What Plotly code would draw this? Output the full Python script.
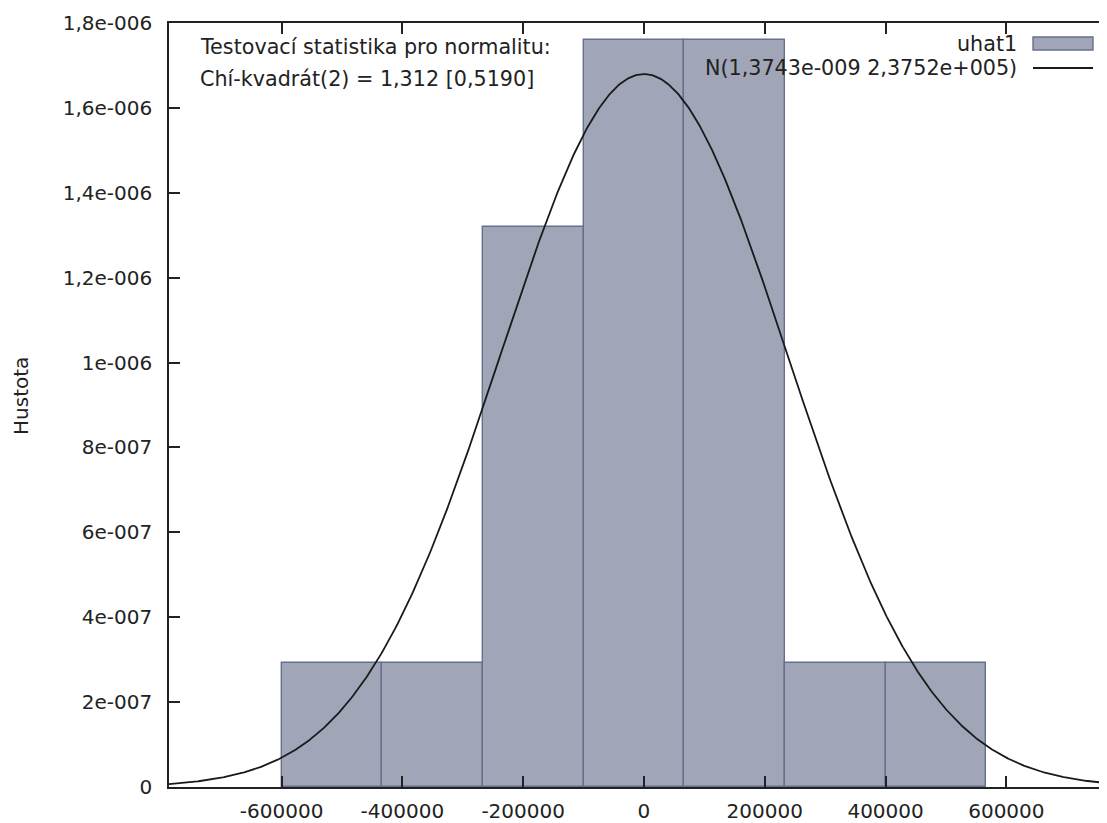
import numpy as np
import plotly.graph_objects as go

# Data
bin_centers = [-516667, -350000, -183333, -16667, 150000, 316667, 483333]
bin_width = 166667
density = [2.93e-7, 2.93e-7, 1.32e-6, 1.76e-6, 1.76e-6, 2.93e-7, 2.93e-7]
norm_mean = 1.3743e-9
norm_sd = 2.3752e5

x_tickvals = [-600000, -400000, -200000, 0, 200000, 400000, 600000]
x_ticktext = ["-600000", "-400000", "-200000", "0", "200000", "400000", "600000"]
y_tickvals = [0, 2e-7, 4e-7, 6e-7, 8e-7, 1e-6, 1.2e-6, 1.4e-6, 1.6e-6, 1.8e-6]
y_ticktext = ["0", "2e-007", "4e-007", "6e-007", "8e-007", "1e-006",
              "1,2e-006", "1,4e-006", "1,6e-006", "1,8e-006"]

x_range = [-786400, 766600]
y_range = [0, 1.8e-6]

FONT = "DejaVu Sans"
fs = 20
fs_note = 20.7
TXT = "#222222"

xs = np.linspace(x_range[0], x_range[1], 700)
pdf = np.exp(-0.5 * ((xs - norm_mean) / norm_sd) ** 2) / (norm_sd * np.sqrt(2 * np.pi))

fig = go.Figure()
fig.add_trace(go.Bar(
    x=bin_centers, y=density, width=[bin_width] * len(bin_centers),
    marker=dict(color="#a0a6b7", line=dict(color="#65708c", width=1.4)),
    showlegend=False, name="uhat1"))
fig.add_trace(go.Scatter(
    x=xs, y=pdf, mode="lines", line=dict(color="#1a1a1a", width=1.8),
    showlegend=False, name="N"))

OFF = 8  # page body margin
W, H = 1099, 815
L, R, T, B = 161, 0, 15, 36


def px(page_x):
    return (page_x - OFF - L) / (W - L - R)


def py(page_y):
    return 1 - (page_y - OFF - T) / (H - T - B)


# legend drawn manually (text right-aligned, key on the right)
fig.add_shape(type="rect", xref="paper", yref="paper",
              x0=px(1033), x1=px(1093), y0=py(50), y1=py(37),
              fillcolor="#a0a6b7", line=dict(color="#65708c", width=1.4))
fig.add_shape(type="line", xref="paper", yref="paper",
              x0=px(1033), x1=px(1093), y0=py(68), y1=py(68),
              line=dict(color="#1a1a1a", width=1.8))


def note(x, y, text, anchor, angle=0, size=fs_note):
    fig.add_annotation(xref="paper", yref="paper", x=x, y=y, text=text,
                       showarrow=False, xanchor=anchor, yanchor="middle",
                       textangle=angle,
                       font=dict(family=FONT, size=size, color=TXT))


note(px(1019), py(44), "uhat1", "right")
note(px(1019), py(68), "N(1,3743e-009 2,3752e+005)", "right")
note(px(198), py(47), "Testovací statistika pro normalitu:", "left")
note(px(198), py(79), "Chí-kvadrát(2) = 1,312 [0,5190]", "left")
note(px(21), py(396), "Hustota", "center", angle=-90, size=fs)

fig.update_layout(
    width=W, height=H,
    margin=dict(l=L, r=R, t=T, b=B, pad=0),
    paper_bgcolor="white", plot_bgcolor="white",
    bargap=0,
    font=dict(family=FONT, size=fs, color=TXT),
    xaxis=dict(range=x_range, tickvals=x_tickvals, ticktext=x_ticktext,
               showgrid=False, zeroline=False, showline=True, linecolor=TXT,
               linewidth=1.5, mirror="ticks", ticks="inside", ticklen=11,
               tickcolor=TXT, tickwidth=1.5, ticklabelstandoff=5,
               tickfont=dict(family=FONT, size=fs, color=TXT)),
    yaxis=dict(range=y_range, tickvals=y_tickvals, ticktext=y_ticktext,
               showgrid=False, zeroline=False, showline=True, linecolor=TXT,
               linewidth=1.5, mirror=False, ticks="inside", ticklen=11,
               tickcolor=TXT, tickwidth=1.5, ticklabelstandoff=11,
               tickfont=dict(family=FONT, size=fs, color=TXT)),
)

fig.write_html("out.html")
